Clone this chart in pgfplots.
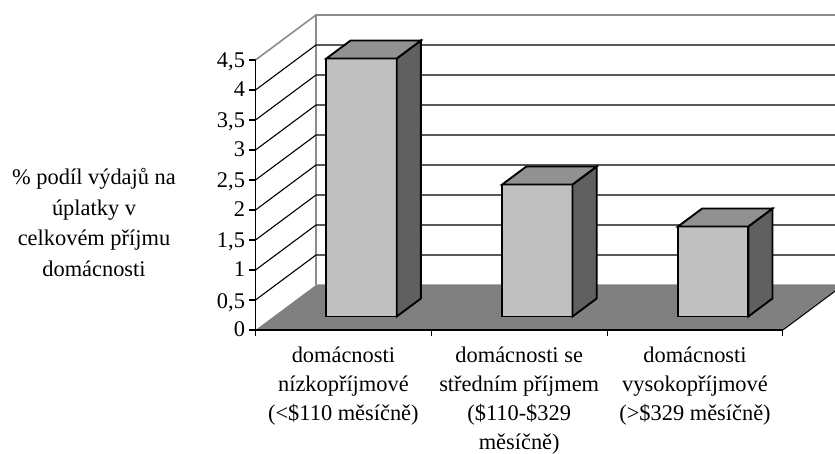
\documentclass[border=0pt]{standalone}
\usepackage{fontspec}
\setmainfont{Liberation Serif}
\usepackage{pgfplots}
\pgfplotsset{compat=1.18}

\definecolor{floorc}{HTML}{808080}
\definecolor{frontc}{HTML}{C0C0C0}
\definecolor{topc}{HTML}{919191}
\definecolor{sidec}{HTML}{606060}
\definecolor{wallc}{HTML}{8C8C8C}

% one bar: left, right, height
\newcommand{\onebar}[3]{
  \addplot3[fill=frontc,draw=black,line width=1.9pt,line join=miter,no marks] coordinates {
    (#1,0.3,0) (#2,0.3,0) (#2,0.3,#3) (#1,0.3,#3) (#1,0.3,0)} -- cycle;
  \addplot3[fill=sidec,draw=black,line width=1.9pt,line join=miter,no marks] coordinates {
    (#2,0.3,0) (#2,0.7,0) (#2,0.7,#3) (#2,0.3,#3) (#2,0.3,0)} -- cycle;
  \addplot3[fill=topc,draw=black,line width=1.9pt,line join=miter,no marks] coordinates {
    (#1,0.3,#3) (#2,0.3,#3) (#2,0.7,#3) (#1,0.7,#3) (#1,0.3,#3)} -- cycle;
}
\newcommand{\gline}[1]{
  \addplot3[black,line width=1.1pt,no marks] coordinates {(0,0,#1) (0,1,#1) (3,1,#1)};
}
\newcommand{\ztk}[1]{
  \addplot3[black,line width=1.1pt,no marks] coordinates {(-0.036,0,#1) (0,0,#1)};
}
\newcommand{\xtk}[1]{
  \addplot3[black,line width=1.1pt,no marks] coordinates {(#1,0,0) (#1,0,-0.1)};
}

\begin{document}
\begin{tikzpicture}[x=1pt,y=1pt]
\path[use as bounding box] (0,0) rectangle (835,454);
\begin{axis}[
    at={(255.5pt,124pt)}, anchor=origin,
    x={(175.8pt,0pt)}, y={(60.5pt,45pt)}, z={(0pt,60pt)},
    xmin=0, xmax=3, ymin=0, ymax=1, zmin=0, zmax=4.5,
    axis x line*=bottom, axis z line*=left, axis y line=none,
    axis line style={line width=1pt,-},
    clip=false,
    ytick=\empty,
    ztick={0,0.5,1,1.5,2,2.5,3,3.5,4,4.5},
    xtick={0.5,1.5,2.5},
    xticklabels={domácnosti\\nízkopříjmové\\(<\$110 měsíčně),
      domácnosti se\\středním příjmem\\(\$110-\$329\\měsíčně),
      domácnosti\\vysokopříjmové\\(>\$329 měsíčně)},
    x tick label style={align=center,anchor=north,inner sep=0pt,yshift=-16.5pt},
    major tick length=0pt,
    tick style={draw=none},
    ticklabel style={font=\fontsize{22.4}{29.2}\selectfont},
    z tick label style={xshift=-7pt,yshift=3.5pt},
    /pgf/number format/.cd, use comma, assume math mode=true,
]
% walls
\addplot3[wallc,line width=1.6pt,no marks] coordinates {(0,1,0) (0,1,4.5) (3,1,4.5)};
\addplot3[wallc,line width=1.6pt,no marks] coordinates {(0,0,4.5) (0,1,4.5)};
\gline{0.5}\gline{1}\gline{1.5}\gline{2}\gline{2.5}\gline{3}\gline{3.5}\gline{4}
% floor
\addplot3[fill=floorc,draw=none,no marks] coordinates {(0,0,0) (3,0,0) (3,1,0) (0,1,0) (0,0,0)} -- cycle;
\addplot3[wallc!70,line width=1pt,no marks] coordinates {(0,1,0) (3,1,0)};
\addplot3[black,line width=1pt,no marks] coordinates {(3,0,0) (3,1,0)};
% axis lines and ticks over the floor
\addplot3[black,line width=1.2pt,no marks] coordinates {(0,0,4.5) (0,0,0) (3,0,0)};
\xtk{0}\xtk{1}\xtk{2}\xtk{3}
\ztk{0}\ztk{0.5}\ztk{1}\ztk{1.5}\ztk{2}\ztk{2.5}\ztk{3}\ztk{3.5}\ztk{4}\ztk{4.5}
% bars
\onebar{0.3}{0.7}{4.3}
\onebar{1.3}{1.7}{2.2}
\onebar{2.3}{2.7}{1.5}
\end{axis}
\node[align=center,font=\fontsize{22.4}{30.5}\selectfont] at (94,231.5)
  {\% podíl výdajů na\\úplatky v\\celkovém příjmu\\domácnosti};
\end{tikzpicture}
\end{document}
